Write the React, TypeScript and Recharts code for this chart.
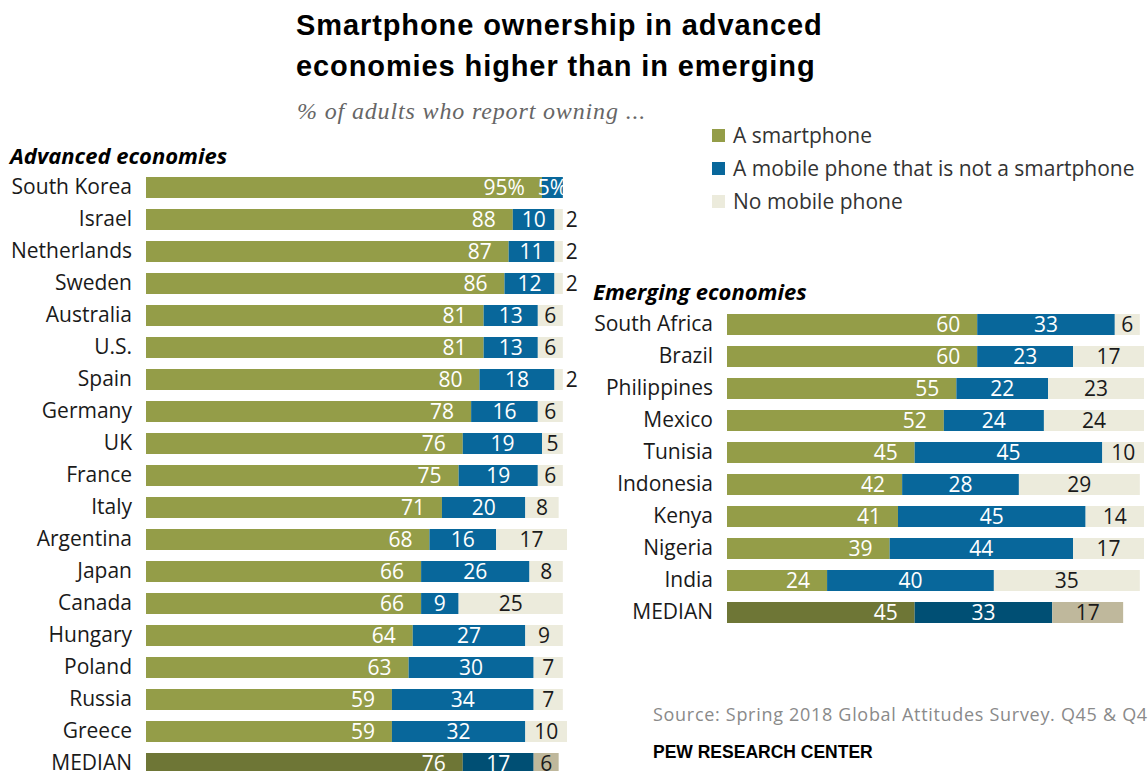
import React from 'react';
import { BarChart, Bar, XAxis, YAxis, Cell, LabelList } from 'recharts';

const advancedCountries = [
  'South Korea', 'Israel', 'Netherlands', 'Sweden', 'Australia', 'U.S.', 'Spain', 'Germany', 'UK',
  'France', 'Italy', 'Argentina', 'Japan', 'Canada', 'Hungary', 'Poland', 'Russia', 'Greece', 'MEDIAN',
];
const advancedSmartphone = [95, 88, 87, 86, 81, 81, 80, 78, 76, 75, 71, 68, 66, 66, 64, 63, 59, 59, 76];
const advancedOtherPhone = [5, 10, 11, 12, 13, 13, 18, 16, 19, 19, 20, 16, 26, 9, 27, 30, 34, 32, 17];
const advancedNoPhone = [0, 2, 2, 2, 6, 6, 2, 6, 5, 6, 8, 17, 8, 25, 9, 7, 7, 10, 6];

const emergingCountries = [
  'South Africa', 'Brazil', 'Philippines', 'Mexico', 'Tunisia', 'Indonesia', 'Kenya', 'Nigeria', 'India', 'MEDIAN',
];
const emergingSmartphone = [60, 60, 55, 52, 45, 42, 41, 39, 24, 45];
const emergingOtherPhone = [33, 23, 22, 24, 45, 28, 45, 44, 40, 33];
const emergingNoPhone = [6, 17, 23, 24, 10, 29, 14, 17, 35, 17];

const seriesNames = ['A smartphone', 'A mobile phone that is not a smartphone', 'No mobile phone'];

// regular rows / median row
const COLORS = {
  smart: ['#949d48', '#6e7636'],
  other: ['#08679b', '#004f74'],
  none: ['#ecebdc', '#bfb89c'],
};

const FONT = '"Open Sans", "Liberation Sans", Arial, sans-serif';

// first row of the advanced panel carries the % sign
const buildRows = (names: string[], a: number[], b: number[], c: number[], pct: boolean) =>
  names.map((country, i) => {
    const suffix = pct && i === 0 ? '%' : '';
    return {
      country,
      smart: a[i],
      other: b[i],
      none: c[i],
      smartLabel: `${a[i]}${suffix}`,
      otherLabel: `${b[i]}${suffix}`,
      noneLabel: c[i] ? `${c[i]}${suffix}` : '',
    };
  });

const advancedData = buildRows(advancedCountries, advancedSmartphone, advancedOtherPhone, advancedNoPhone, true);
const emergingData = buildRows(emergingCountries, emergingSmartphone, emergingOtherPhone, emergingNoPhone, false);

const geom = (p: any) => {
  const vb = p.viewBox || {};
  return {
    x: Number(p.x ?? vb.x),
    y: Number(p.y ?? vb.y),
    w: Number(p.width ?? vb.width),
    h: Number(p.height ?? vb.height),
  };
};

const makeLabel = (kind: 'smart' | 'other' | 'none') => (props: any) => {
  const txt = props.value;
  if (!txt) return null;
  const num = parseInt(String(txt), 10);
  const { x, y, w, h } = geom(props);
  const cy = y + h / 2;
  let tx = x + w / 2;
  let anchor: 'start' | 'middle' | 'end' = 'middle';
  let fill = '#fff';
  if (kind === 'smart') {
    tx = x + w - 17;
    anchor = 'end';
  } else if (kind === 'none') {
    fill = '#1a1a1a';
    if (num <= 2) {
      tx = x + w + 3;
      anchor = 'start';
    }
  }
  return (
    <text x={tx} y={cy} dy="0.36em" textAnchor={anchor} fill={fill} fontSize={21} fontFamily={FONT}>
      {txt}
    </text>
  );
};

interface PanelProps {
  data: any[];
  left: number;
  top: number;
  axisWidth: number;
  plotWidth: number;
  maxValue: number;
}

const Panel: React.FC<PanelProps> = ({ data, left, top, axisWidth, plotWidth, maxValue }) => {
  const rowH = 32;
  const rightPad = 34;
  return (
    <div style={{ position: 'absolute', left, top }}>
      <BarChart
        width={axisWidth + plotWidth + rightPad}
        height={data.length * rowH}
        data={data}
        layout="vertical"
        margin={{ top: 0, right: rightPad, bottom: 0, left: 0 }}
        barSize={21}
      >
        <XAxis type="number" hide domain={[0, maxValue]} />
        <YAxis
          type="category"
          dataKey="country"
          width={axisWidth}
          axisLine={false}
          tickLine={false}
          tickSize={0}
          tickMargin={14}
          interval={0}
          tick={{ fontSize: 21, fill: '#1a1a1a', fontFamily: FONT }}
        />
        {(['smart', 'other', 'none'] as const).map((k, si) => (
          <Bar key={k} dataKey={k} stackId="s" name={seriesNames[si]} isAnimationActive={false}>
            {data.map((d, i) => (
              <Cell key={`c-${k}-${i}`} fill={COLORS[k][d.country === 'MEDIAN' ? 1 : 0]} />
            ))}
            <LabelList dataKey={`${k}Label`} content={makeLabel(k)} />
          </Bar>
        ))}
      </BarChart>
    </div>
  );
};

const legendColors = [COLORS.smart[0], COLORS.other[0], COLORS.none[0]];

export default function App() {
  return (
    <div
      style={{
        position: 'absolute',
        left: 0,
        top: 0,
        width: 1148,
        height: 771,
        overflow: 'hidden',
        background: '#fff',
        fontFamily: FONT,
        color: '#1a1a1a',
      }}
    >
      <div
        style={{
          position: 'absolute',
          left: 296,
          top: 5,
          fontFamily: '"Liberation Sans", Arial, sans-serif',
          fontWeight: 700,
          fontSize: 29,
          lineHeight: '41px',
          letterSpacing: 0.9,
          color: '#000',
          whiteSpace: 'nowrap',
        }}
      >
        Smartphone ownership in advanced
        <br />
        economies higher than in emerging
      </div>
      <div
        style={{
          position: 'absolute',
          left: 297,
          top: 96,
          fontFamily: '"Liberation Serif", "DejaVu Serif", serif',
          fontStyle: 'italic',
          fontSize: 24,
          lineHeight: '30px',
          letterSpacing: 0.85,
          color: '#666',
          whiteSpace: 'nowrap',
        }}
      >
        % of adults who report owning ...
      </div>

      {seriesNames.map((s, i) => (
        <div
          key={s}
          style={{ position: 'absolute', left: 712, top: 121 + i * 33, height: 28, display: 'flex', alignItems: 'center' }}
        >
          <span style={{ display: 'inline-block', width: 13, height: 13, background: legendColors[i], marginRight: 8 }} />
          <span style={{ fontSize: 21, color: '#333', whiteSpace: 'nowrap' }}>{s}</span>
        </div>
      ))}

      <div
        style={{ position: 'absolute', left: 10, top: 140, fontSize: 22, fontWeight: 700, fontStyle: 'italic', lineHeight: '30px', color: '#000' }}
      >
        Advanced economies
      </div>
      <div
        style={{ position: 'absolute', left: 593, top: 276, fontSize: 22, fontWeight: 700, fontStyle: 'italic', lineHeight: '30px', color: '#000' }}
      >
        Emerging economies
      </div>

      <Panel data={advancedData} left={0} top={171} axisWidth={146} plotWidth={421} maxValue={101} />
      <Panel data={emergingData} left={580} top={308} axisWidth={147} plotWidth={417} maxValue={100} />

      <div
        style={{ position: 'absolute', left: 653, top: 702, fontSize: 18, letterSpacing: 0.7, color: '#8a8a8a', whiteSpace: 'nowrap' }}
      >
        Source: Spring 2018 Global Attitudes Survey. Q45 &amp; Q46.
      </div>
      <div
        style={{
          position: 'absolute',
          left: 653,
          top: 742,
          fontSize: 17.5,
          fontWeight: 700,
          color: '#000',
          whiteSpace: 'nowrap',
          fontFamily: '"Liberation Sans Narrow", "Liberation Sans", Arial, sans-serif',
        }}
      >
        PEW RESEARCH CENTER
      </div>
    </div>
  );
}
